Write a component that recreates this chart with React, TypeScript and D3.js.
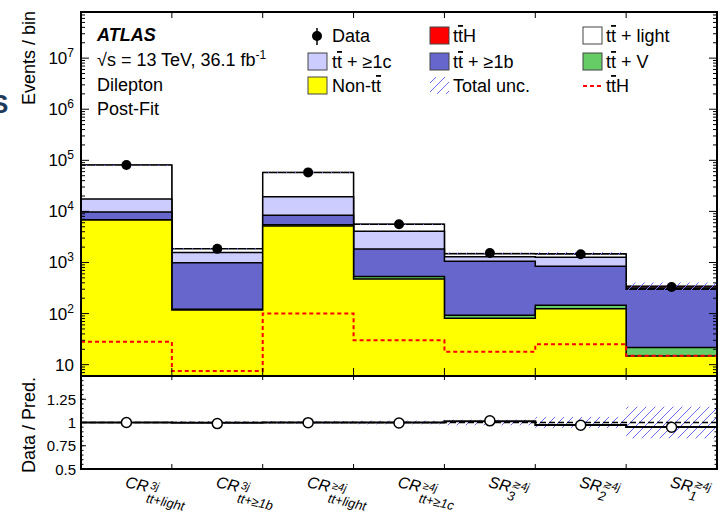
import React from 'react';
import * as d3 from 'd3';

// bin labels
const binMain = ['CR', 'CR', 'CR', 'CR', 'SR', 'SR', 'SR'];
const binSup = ['3j', '3j', '≥4j', '≥4j', '≳4j', '≳4j', '≳4j'];
const binSub = ['tt+light', 'tt+≥1b', 'tt+light', 'tt+≥1c', '3', '2', '1'];

// post-fit yields per bin (stack order: bottom -> top)
const nonTtbar = [6800, 118, 5190, 476, 81, 125, 14.8];
const ttV = [60, 3, 310, 54, 12, 21, 7];
const tt1b = [2890, 872, 2900, 1310, 964, 698, 278];
const tt1c = [7750, 567, 11000, 2240, 243, 421, 15];
const ttLight = [63500, 305, 38600, 1520, 190, 205, 18];
const ttH = [28, 7.5, 100, 30, 18, 25, 15];

const dataCounts = [81000, 1850, 58000, 5600, 1535, 1450, 330];
const relUnc = [0.004, 0.015, 0.015, 0.02, 0.03, 0.06, 0.17];
const ratioLine = [1.0, 0.998, 1.0, 1.0, 1.014, 0.972, 0.951];

const yExps = [1, 2, 3, 4, 5, 6, 7];
const ratioTicks = [0.5, 0.75, 1, 1.25];

const FONT = '"Liberation Sans", Arial, Helvetica, sans-serif';
const stackComps = [nonTtbar, ttV, tt1b, tt1c, ttLight, ttH];
const stackColors = ['#ffff00', '#66cc66', '#6666cc', '#ccccff', '#ffffff', '#ff0000'];

const TT = () => (
  <>
    <tspan>t</tspan>
    <tspan style={{ textDecoration: 'overline' }}>t</tspan>
  </>
);

const App = () => {
  const left = 81, right = 717, top = 12, mid = 376, bottom = 469;
  const nBins = dataCounts.length;

  const x = d3.scaleLinear().domain([0, nBins]).range([left, right]);
  const y = d3.scaleLog().domain([6, 8e7]).range([mid, top]);
  const r = d3.scaleLinear().domain([0.5, 1.5]).range([bottom, mid]);

  const cum = stackComps.map((_, k) =>
    dataCounts.map((__, i) => d3.sum(stackComps.slice(0, k + 1), (c) => c[i]))
  );
  const total = cum[cum.length - 1];

  const steps = (vals: number[]) =>
    vals.flatMap((v, i) => [[i, v], [i + 1, v]] as [number, number][]);

  const line = d3.line<[number, number]>().x((d) => x(d[0])).y((d) => y(d[1]));
  const area = d3
    .area<[number, number]>()
    .x((d) => x(d[0]))
    .y0(mid + 10)
    .y1((d) => y(d[1]));
  const rLine = d3.line<[number, number]>().x((d) => x(d[0])).y((d) => r(d[1]));

  const minorY: number[] = [];
  for (let e = 0; e <= 7; e++) {
    for (let m = 2; m <= 9; m++) {
      const v = m * Math.pow(10, e);
      if (v > 6 && v < 8e7) minorY.push(v);
    }
  }
  const minorR = d3.range(0.5, 1.5001, 0.05);
  const edges = d3.range(1, nBins);

  return (
    <svg
      width={722}
      height={515}
      style={{ position: 'absolute', left: 0, top: 0, background: '#fff' }}
      fontFamily={FONT}
    >
      <defs>
        <clipPath id="main">
          <rect x={left} y={top} width={right - left} height={mid - top} />
        </clipPath>
        <clipPath id="ratio">
          <rect x={left} y={mid} width={right - left} height={bottom - mid} />
        </clipPath>
        <pattern id="hatch" patternUnits="userSpaceOnUse" width={9} height={9}>
          <line x1={0} y1={9} x2={9} y2={0} stroke="#6b6bf5" strokeWidth={1} />
          <line x1={-2} y1={2} x2={2} y2={-2} stroke="#6b6bf5" strokeWidth={1} />
          <line x1={7} y1={11} x2={11} y2={7} stroke="#6b6bf5" strokeWidth={1} />
        </pattern>
      </defs>

      {/* heading glyph cut by the page edge, as in the source image */}
      <text x={-9} y={113} fontSize={26} fontWeight="bold" fill="#1f3a5c">S</text>

      {/* main panel */}
      <g clipPath="url(#main)">
        {cum
          .map((vals, k) => ({ vals, k }))
          .reverse()
          .map(({ vals, k }) => (
            <g key={k}>
              <path d={area(steps(vals)) || ''} fill={stackColors[k]} />
              <path
                d={line(steps(vals)) || ''}
                fill="none"
                stroke="#000"
                strokeWidth={k === 5 ? 1 : 1.5}
              />
            </g>
          ))}
        {total.map((t, i) => (
          <rect
            key={i}
            x={x(i)}
            width={x(i + 1) - x(i)}
            y={y(t * (1 + relUnc[i]))}
            height={Math.max(1.2, y(t * (1 - relUnc[i])) - y(t * (1 + relUnc[i])))}
            fill="url(#hatch)"
          />
        ))}
        <path
          d={line(steps(ttH)) || ''}
          fill="none"
          stroke="#ff0000"
          strokeWidth={2}
          strokeDasharray="4 3"
        />
        {dataCounts.map((d, i) => (
          <g key={i}>
            <line
              x1={x(i + 0.5)}
              x2={x(i + 0.5)}
              y1={y(d + Math.sqrt(d))}
              y2={y(d - Math.sqrt(d))}
              stroke="#000"
              strokeWidth={1.5}
            />
            <circle cx={x(i + 0.5)} cy={y(d)} r={5} fill="#000" />
          </g>
        ))}
      </g>

      {/* main axes ticks */}
      <g stroke="#000" strokeWidth={1}>
        {yExps.map((e) => (
          <g key={e}>
            <line x1={left} x2={left + 8} y1={y(Math.pow(10, e))} y2={y(Math.pow(10, e))} />
            <line x1={right} x2={right - 8} y1={y(Math.pow(10, e))} y2={y(Math.pow(10, e))} />
          </g>
        ))}
        {minorY.map((v) => (
          <g key={v}>
            <line x1={left} x2={left + 4} y1={y(v)} y2={y(v)} />
            <line x1={right} x2={right - 4} y1={y(v)} y2={y(v)} />
          </g>
        ))}
        {edges.map((b) => (
          <g key={b}>
            <line x1={x(b)} x2={x(b)} y1={top} y2={top + 6} />
            <line x1={x(b)} x2={x(b)} y1={mid} y2={mid - 8} />
            <line x1={x(b)} x2={x(b)} y1={mid} y2={mid + 4} />
            <line x1={x(b)} x2={x(b)} y1={bottom} y2={bottom - 5} />
          </g>
        ))}
      </g>
      {yExps.map((e) => (
        <text key={e} x={74} y={y(Math.pow(10, e)) + 6} fontSize={17} textAnchor="end">
          10
          {e > 1 ? (
            <tspan dy={-7} fontSize={12}>
              {e}
            </tspan>
          ) : null}
        </text>
      ))}

      {/* ratio panel */}
      <g clipPath="url(#ratio)">
        {relUnc.map((u, i) => (
          <rect
            key={i}
            x={x(i)}
            width={x(i + 1) - x(i)}
            y={r(1 + u)}
            height={Math.max(1.2, r(1 - u) - r(1 + u))}
            fill="url(#hatch)"
          />
        ))}
        <line
          x1={left}
          x2={right}
          y1={r(1)}
          y2={r(1)}
          stroke="#000"
          strokeWidth={1.5}
          strokeDasharray="6 3"
        />
        <path d={rLine(steps(ratioLine)) || ''} fill="none" stroke="#000" strokeWidth={2} />
        {dataCounts.map((d, i) => {
          const rv = d / total[i];
          const err = (Math.sqrt(d) / d) * rv;
          return (
            <g key={i}>
              <line
                x1={x(i + 0.5)}
                x2={x(i + 0.5)}
                y1={r(rv + err)}
                y2={r(rv - err)}
                stroke="#000"
                strokeWidth={1.5}
              />
              <circle cx={x(i + 0.5)} cy={r(rv)} r={5} fill="#fff" stroke="#000" strokeWidth={1.5} />
            </g>
          );
        })}
      </g>
      <g stroke="#000" strokeWidth={1}>
        {minorR.map((v) => (
          <g key={v}>
            <line x1={left} x2={left + 2.5} y1={r(v)} y2={r(v)} />
            <line x1={right} x2={right - 2.5} y1={r(v)} y2={r(v)} />
          </g>
        ))}
        {[...ratioTicks, 1.5].map((v) => (
          <g key={v}>
            <line x1={left} x2={left + 5} y1={r(v)} y2={r(v)} />
            <line x1={right} x2={right - 5} y1={r(v)} y2={r(v)} />
          </g>
        ))}
      </g>
      {ratioTicks.map((v) => (
        <text key={v} x={76} y={r(v) + 5.5} fontSize={15} textAnchor="end">
          {v}
        </text>
      ))}

      {/* frames */}
      <rect x={left} y={top} width={right - left} height={mid - top} fill="none" stroke="#000" strokeWidth={2} />
      <rect x={left} y={mid} width={right - left} height={bottom - mid} fill="none" stroke="#000" strokeWidth={2} />

      {/* axis titles */}
      <text transform={`translate(35,11) rotate(-90)`} fontSize={18} textAnchor="end">
        Events / bin
      </text>
      <text transform={`translate(35,425) rotate(-90)`} fontSize={18} textAnchor="middle">
        Data / Pred.
      </text>

      {/* bin labels */}
      {binMain.map((m, i) => {
        const isSR = m === 'SR';
        return (
          <g key={i} transform={`translate(${x(i + 0.5) - 2},487) rotate(13)`}>
            <text x={0} y={0} fontSize={16} fontStyle="italic">
              {m}
            </text>
            <text x={isSR ? 23 : 25} y={isSR ? -5 : -4} fontSize={11} fontStyle="italic">
              {binSup[i]}
            </text>
            <text x={isSR ? 21 : 24} y={isSR ? 8 : 10} fontSize={13} fontStyle="italic">
              {binSub[i]}
            </text>
          </g>
        );
      })}

      {/* ATLAS label */}
      <text x={97} y={41} fontSize={18} fontWeight="bold" fontStyle="italic">
        ATLAS
      </text>
      <text x={97} y={66} fontSize={18}>
        √s = 13 TeV, 36.1 fb
        <tspan dy={-7} fontSize={12}>
          -1
        </tspan>
      </text>
      <text x={97} y={91} fontSize={18}>
        Dilepton
      </text>
      <text x={97} y={115} fontSize={18}>
        Post-Fit
      </text>

      {/* legend */}
      <g fontSize={18}>
        <line x1={317} x2={317} y1={28} y2={45} stroke="#000" strokeWidth={1.5} />
        <circle cx={317} cy={36} r={5} fill="#000" />
        <text x={332} y={42}>Data</text>
        <rect x={430} y={27} width={19} height={17} fill={stackColors[5]} stroke="#444" />
        <text x={453} y={42}><TT />H</text>
        <rect x={583} y={27} width={19} height={17} fill={stackColors[4]} stroke="#444" />
        <text x={606} y={42}><TT /> + light</text>

        <rect x={308} y={53} width={19} height={17} fill={stackColors[3]} stroke="#444" />
        <text x={332} y={68}><TT /> + ≥1c</text>
        <rect x={430} y={53} width={19} height={17} fill={stackColors[2]} stroke="#444" />
        <text x={453} y={68}><TT /> + ≥1b</text>
        <rect x={583} y={53} width={19} height={17} fill={stackColors[1]} stroke="#444" />
        <text x={606} y={68}><TT /> + V</text>

        <rect x={308} y={77} width={19} height={17} fill={stackColors[0]} stroke="#444" />
        <text x={332} y={92}>Non-<TT /></text>
        <rect x={430} y={77} width={19} height={17} fill="url(#hatch)" />
        <text x={453} y={92}>Total unc.</text>
        <line x1={583} x2={603} y1={86} y2={86} stroke="#ff0000" strokeWidth={2} strokeDasharray="4 3" />
        <text x={606} y={92}><TT />H</text>
      </g>
    </svg>
  );
};

export default App;
